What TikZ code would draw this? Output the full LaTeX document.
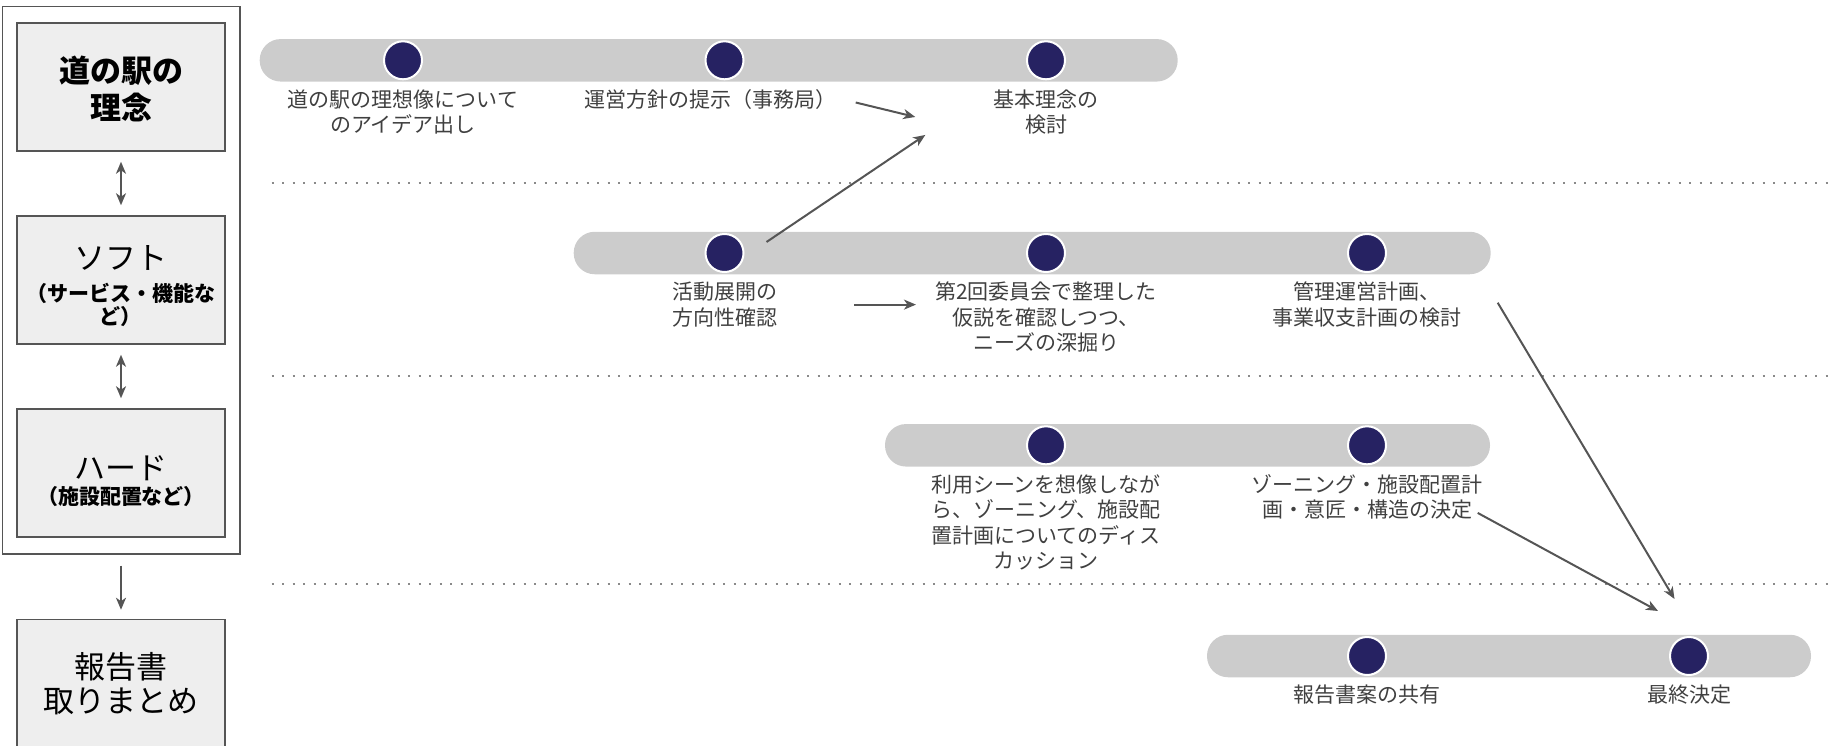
\documentclass[tikz,border=0pt]{standalone}
\usepackage{fontspec}
\setmainfont{Noto Sans CJK JP}
\usetikzlibrary{arrows, arrows.meta, backgrounds, fit, positioning, shapes}

\definecolor{barfill}{HTML}{CCCCCC}
\definecolor{dotfill}{HTML}{262262}
\definecolor{boxfill}{HTML}{EEEEEE}
\definecolor{linegray}{HTML}{555555}
\definecolor{textgray}{HTML}{404040}
\definecolor{dotgray}{HTML}{8A8A8A}

\newcommand{\stagewidth}{208pt}
\newcommand{\stageheight}{128pt}
\newcommand{\barheight}{42.5pt}
\newcommand{\substagefont}{\fontsize{21}{25}\selectfont\bfseries}
\newcommand{\padtop}[1]{\rule{0pt}{#1}}

\tikzstyle{stage} = [% one stage of the study
  rectangle,
  minimum width=\stagewidth,
  minimum height=\stageheight,
  align=center,
  draw=linegray,
  line width=1.5pt,
  fill=boxfill,
  font=\fontsize{31}{37}\selectfont
]
\tikzstyle{stageframe} = [% frame round the first three stages
  draw=linegray,
  line width=1.5pt,
  inner xsep=14pt,
  inner ysep=16pt
]
\tikzstyle{timeline} = [% grey bar of one row
  rectangle,
  rounded corners=21pt,
  minimum height=\barheight,
  fill=barfill
]
\tikzstyle{milestone} = [% dark dot on a bar
  circle,
  minimum size=38pt,
  inner sep=0pt,
  fill=dotfill,
  draw=white,
  line width=2pt
]
\tikzstyle{milestonetext} = [% text under a dot
  align=center,
  inner sep=0pt,
  text=textgray,
  font=\fontsize{21}{25.5}\selectfont
]
\tikzstyle{arrow} = [% arrow format
  ->,
  >={Stealth[length=12pt, width=10pt, inset=3.5pt]},
  line width=2pt,
  draw=linegray
]
\tikzstyle{divider} = [% dotted line between rows
  draw=dotgray,
  line width=2pt,
  dash pattern=on 2pt off 8.5pt
]

\begin{document}
\begin{tikzpicture}[x=1pt, y=1pt, node distance=63.5pt]
\useasboundingbox (0,0) rectangle (1831,-745);

%%% Stages
\node[stage] (concept) at (121,-87) {\padtop{31pt}\bfseries 道の駅の\\\bfseries 理念};
\node[stage] (soft) [below=of concept] {\padtop{36pt}ソフト\\[-4.8pt]\substagefont （サービス・機能な\\[-14pt]\substagefont ど）};
\node[stage] (hard) [below=of soft] {\padtop{40pt}ハード\\[-12.8pt]\substagefont （施設配置など）};
\node[stage] (report) [below=81pt of hard] {報告書\\[-3pt]取りまとめ};

\node[stageframe, fit=(concept) (soft) (hard)] (frame) {};

%%% Milestones
\node[milestone] (ConceptIdeas) at (403,-60.3) {};
\node[milestone] (ConceptPolicy) at (724.5,-60.3) {};
\node[milestone] (ConceptReview) at (1046,-60.3) {};

\node[milestone] (SoftDirection) at (724.5,-253) {};
\node[milestone] (SoftHypothesis) at (1046,-253) {};
\node[milestone] (SoftPlan) at (1367,-253) {};

\node[milestone] (HardScenes) at (1046,-445.3) {};
\node[milestone] (HardDecision) at (1367,-445.3) {};

\node[milestone] (ReportShare) at (1367,-656) {};
\node[milestone] (ReportFinal) at (1689,-656) {};

%%% Timelines
\begin{scope}[on background layer]
  \node[timeline, minimum width=918pt] (ConceptBar) at (718.7,-60.3) {};
  \node[timeline, minimum width=917pt] (SoftBar) at (1032.2,-253) {};
  \node[timeline, minimum width=605pt] (HardBar) at (1187.5,-445.3) {};
  \node[timeline, minimum width=604pt] (ReportBar) at (1509,-656) {};
\end{scope}

%%% Texts
\node[milestonetext] (ConceptIdeasText) [below=9pt of ConceptIdeas] {道の駅の理想像について\\のアイデア出し};
\node[milestonetext] (ConceptPolicyText) [below=9pt of ConceptPolicy, xshift=-14pt] {運営方針の提示（事務局）};
\node[milestonetext] (ConceptReviewText) [below=9pt of ConceptReview] {基本理念の\\検討};

\node[milestonetext] (SoftDirectionText) [below=9pt of SoftDirection] {活動展開の\\方向性確認};
\node[milestonetext] (SoftHypothesisText) [below=9pt of SoftHypothesis] {第2回委員会で整理した\\仮説を確認しつつ、\\ニーズの深掘り};
\node[milestonetext] (SoftPlanText) [below=9pt of SoftPlan] {管理運営計画、\\事業収支計画の検討};

\node[milestonetext] (HardScenesText) [below=9pt of HardScenes] {利用シーンを想像しなが\\ら、ゾーニング、施設配\\置計画についてのディス\\カッション};
\node[milestonetext] (HardDecisionText) [below=9pt of HardDecision] {ゾーニング・施設配置計\\画・意匠・構造の決定};

\node[milestonetext] (ReportShareText) [below=9pt of ReportShare] {報告書案の共有};
\node[milestonetext] (ReportFinalText) [below=9pt of ReportFinal] {最終決定};

%%% Dividers
\foreach \y in {182.7, 376, 584}
  \draw[divider] (271.7,-\y) -- (1831,-\y);

%%% Arrows
\draw[arrow, <->, shorten <=10pt, shorten >=10pt] (concept) -- (soft);
\draw[arrow, <->, shorten <=10pt, shorten >=10pt] (soft) -- (hard);
\draw[arrow, shorten <=11pt, shorten >=9pt] (frame) -- (report);

\draw[arrow] ([xshift=19pt, yshift=-3pt]ConceptPolicyText.east) -- ([xshift=-78pt, yshift=-5pt]ConceptReviewText.west);
\draw[arrow] ([xshift=22pt, yshift=11pt]SoftDirection.east) -- ([xshift=-68pt, yshift=-23pt]ConceptReviewText.west);
\draw[arrow, shorten <=77pt, shorten >=19pt] (SoftDirectionText.east) -- (SoftDirectionText.east -| SoftHypothesisText.west);
\draw[arrow] ([xshift=36pt, yshift=2pt]SoftPlanText.east) -- ([xshift=-14.5pt, yshift=37pt]ReportFinal.north);
\draw[arrow] ([xshift=-5pt, yshift=7pt]HardDecisionText.south east) -- ([xshift=-31pt, yshift=25pt]ReportFinal.north);

\end{tikzpicture}
\end{document}
